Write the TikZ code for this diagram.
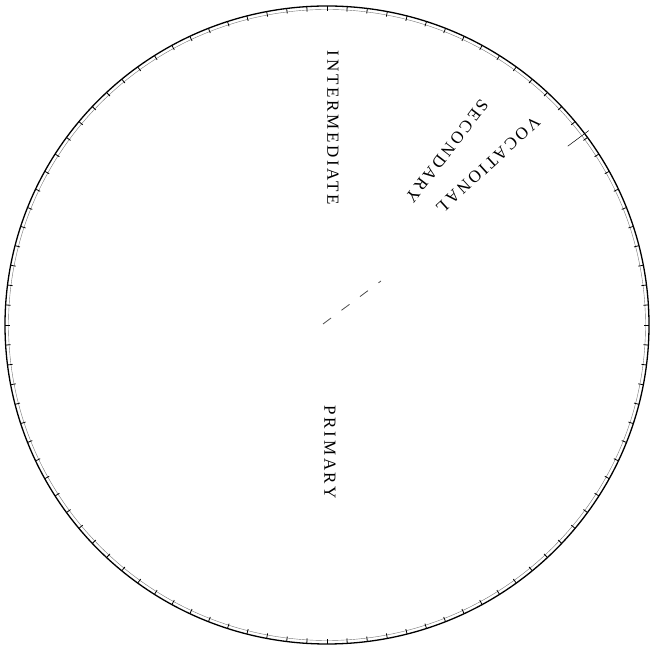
\documentclass[tikz,border=0pt]{standalone}
\usepackage{fontspec}
\setmainfont{Liberation Serif}
\usetikzlibrary{calc}
\begin{document}
\begin{tikzpicture}[x=1pt,y=1pt,
  lbl/.style={font=\fontsize{17}{17}\selectfont\addfontfeature{LetterSpace=16}, inner sep=0pt},
  rim/.style={line width=1.3pt},
  innerrim/.style={line width=0.4pt, black!55},
  tick/.style={line width=0.8pt},
  guide/.style={black!70, line width=0.8pt, dash pattern=on 10pt off 13pt}]
\useasboundingbox (0,0) rectangle (654,648);
\coordinate (C) at (327,323);
\draw[rim] (C) ellipse [x radius=322, y radius=319];
\draw[innerrim] (C) ellipse [x radius=318.5, y radius=315.5];
\foreach \i in {0,...,99}
  \draw[tick, shift={(C)}] ({90+3.6*\i}:322 and 319) -- ({90+3.6*\i}:317 and 314);
\node[lbl, rotate=-90] (inter) at (333,520) {INTERMEDIATE};
\node[lbl, rotate=-90] (prim) at (330,196) {PRIMARY};
\node[lbl, rotate=-127.4] (sec) at (447,497) {SECONDARY};
\node[lbl, rotate=-137.6] (voc) at (488,483) {VOCATIONAL};
\coordinate (g1) at (323,324);
\coordinate (g2) at (381,367);
\draw[guide] (g1) -- (g2);
\coordinate (b1) at ($(C)+(36.6:300)$);
\coordinate (b2) at ($(C)+(36.6:326)$);
\draw[line width=0.5pt] (b1) -- (b2);
\end{tikzpicture}
\end{document}
